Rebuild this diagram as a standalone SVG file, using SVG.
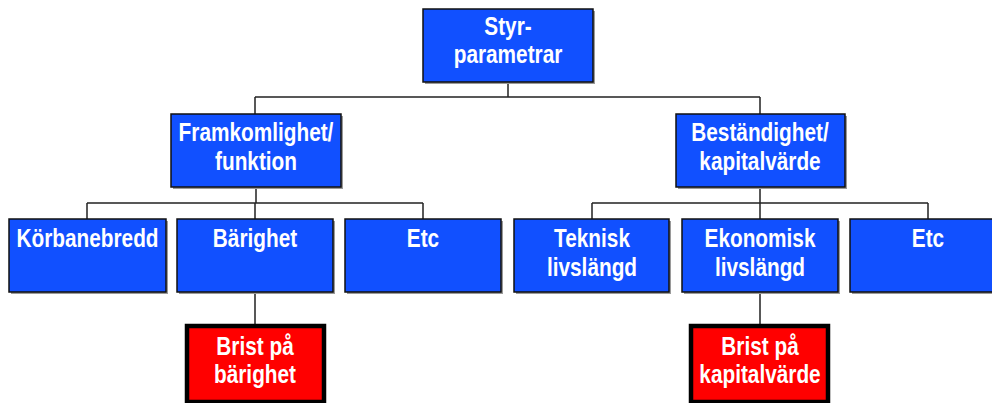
<svg xmlns="http://www.w3.org/2000/svg" width="992" height="403" viewBox="0 0 992 403">
  <style>
    .box { fill: #1150FF; stroke: #111; stroke-width: 1.5; }
    .shadow { fill: #9a9a9a; }
    .alert { fill: #FF0000; stroke: #000; stroke-width: 4.5; }
    .lbl { font-family: "Liberation Sans", Arial, sans-serif; font-weight: bold; font-size: 26px; fill: #fff; text-anchor: middle; }
    .wire { fill: none; stroke: #222; stroke-width: 1.5; }
  </style>

  <!-- connectors -->
  <g id="connectors">
    <path class="wire" d="M508,82 V97 M255,97 H760 M255,97 V114 M760,97 V114"/>
    <path class="wire" d="M256,187 V203 M87,203 H423 M87,203 V219 M255,203 V219 M423,203 V219"/>
    <path class="wire" d="M760,187 V203 M592,203 H928 M592,203 V219 M760,203 V219 M928,203 V219"/>
    <path class="wire" d="M255,292 V324 M760,292 V324"/>
  </g>

  <!-- root -->
  <g id="styrparametrar">
    <rect class="shadow" x="425" y="11" width="170" height="73"/>
    <rect class="box" x="423" y="9" width="170" height="73"/>
    <text class="lbl" transform="translate(508,0) scale(0.8,1)"><tspan x="0" y="35">Styr-</tspan><tspan x="0" y="63">parametrar</tspan></text>
  </g>

  <!-- second level -->
  <g id="framkomlighet">
    <rect class="shadow" x="173" y="116" width="170" height="73"/>
    <rect class="box" x="171" y="114" width="170" height="73"/>
    <text class="lbl" transform="translate(256,0) scale(0.8,1)"><tspan x="0" y="141">Framkomlighet/</tspan><tspan x="0" y="170">funktion</tspan></text>
  </g>
  <g id="bestandighet">
    <rect class="shadow" x="678" y="116" width="169" height="73"/>
    <rect class="box" x="676" y="114" width="169" height="73"/>
    <text class="lbl" transform="translate(760,0) scale(0.8,1)"><tspan x="0" y="141">Beständighet/</tspan><tspan x="0" y="170">kapitalvärde</tspan></text>
  </g>

  <!-- third level -->
  <g id="korbanebredd">
    <rect class="shadow" x="11" y="221" width="157" height="73"/>
    <rect class="box" x="9" y="219" width="157" height="73"/>
    <text class="lbl" transform="translate(87.5,0) scale(0.8,1)"><tspan x="0" y="247">Körbanebredd</tspan></text>
  </g>
  <g id="barighet">
    <rect class="shadow" x="179" y="221" width="156" height="73"/>
    <rect class="box" x="177" y="219" width="156" height="73"/>
    <text class="lbl" transform="translate(255,0) scale(0.8,1)"><tspan x="0" y="247">Bärighet</tspan></text>
  </g>
  <g id="etc-left">
    <rect class="shadow" x="347" y="221" width="156" height="73"/>
    <rect class="box" x="345" y="219" width="156" height="73"/>
    <text class="lbl" transform="translate(423,0) scale(0.8,1)"><tspan x="0" y="247">Etc</tspan></text>
  </g>
  <g id="teknisk">
    <rect class="shadow" x="516" y="221" width="155" height="73"/>
    <rect class="box" x="514" y="219" width="155" height="73"/>
    <text class="lbl" transform="translate(592,0) scale(0.8,1)"><tspan x="0" y="247">Teknisk</tspan><tspan x="0" y="276">livslängd</tspan></text>
  </g>
  <g id="ekonomisk">
    <rect class="shadow" x="684" y="221" width="156" height="73"/>
    <rect class="box" x="682" y="219" width="156" height="73"/>
    <text class="lbl" transform="translate(760,0) scale(0.8,1)"><tspan x="0" y="247">Ekonomisk</tspan><tspan x="0" y="276">livslängd</tspan></text>
  </g>
  <g id="etc-right">
    <rect class="shadow" x="852" y="221" width="156" height="73"/>
    <rect class="box" x="850" y="219" width="156" height="73"/>
    <text class="lbl" transform="translate(928,0) scale(0.8,1)"><tspan x="0" y="247">Etc</tspan></text>
  </g>

  <!-- outcomes -->
  <g id="brist-barighet">
    <rect class="alert" x="187" y="326" width="137" height="76"/>
    <text class="lbl" transform="translate(255,0) scale(0.8,1)"><tspan x="0" y="355">Brist på</tspan><tspan x="0" y="383">bärighet</tspan></text>
  </g>
  <g id="brist-kapitalvarde">
    <rect class="alert" x="691" y="326" width="137" height="76"/>
    <text class="lbl" transform="translate(760,0) scale(0.8,1)"><tspan x="0" y="355">Brist på</tspan><tspan x="0" y="383">kapitalvärde</tspan></text>
  </g>
</svg>
